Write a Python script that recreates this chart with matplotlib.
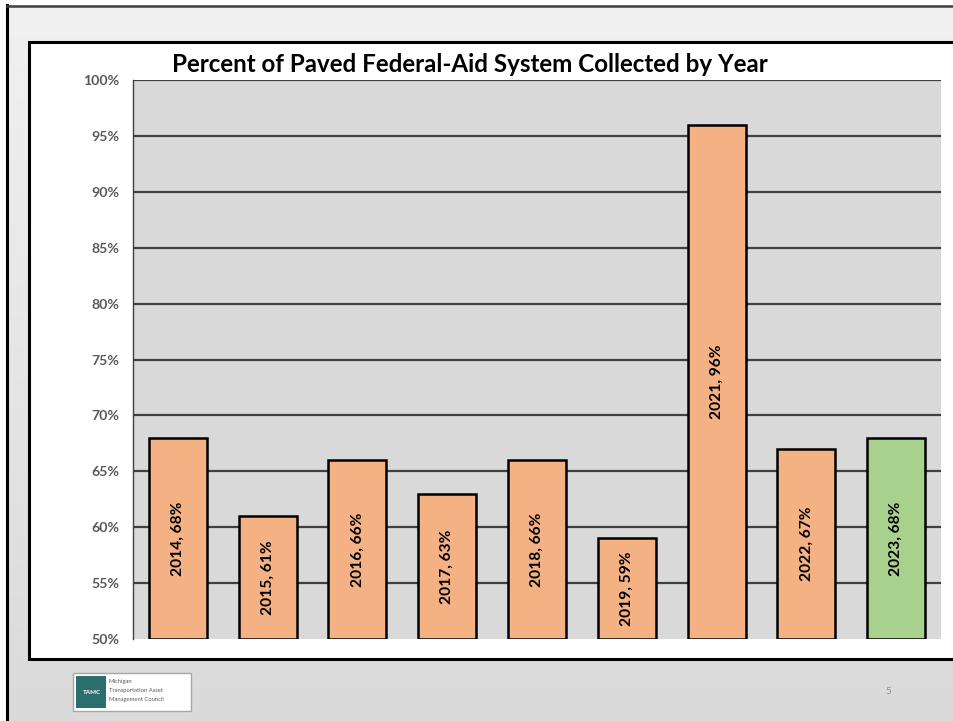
import numpy as np
import matplotlib
matplotlib.use("Agg")
import matplotlib.pyplot as plt
from matplotlib.patches import Rectangle, Circle
from matplotlib.lines import Line2D

plt.rcParams['font.family'] = ['Lato', 'DejaVu Sans']

# Data
years = ["2014", "2015", "2016", "2017", "2018", "2019", "2021", "2022", "2023"]
percent_collected = [68, 61, 66, 63, 66, 59, 96, 67, 68]
bar_colors = ["#f4b183"] * 8 + ["#a9d18e"]
y_ticks = [50, 55, 60, 65, 70, 75, 80, 85, 90, 95, 100]
y_tick_labels = [f"{t}%" for t in y_ticks]
title = "Percent of Paved Federal-Aid System Collected by Year"

W, H = 954, 721
fig = plt.figure(figsize=(W / 100, H / 100), dpi=100)


def fx(x):
    return x / W


def fy(y):
    return 1 - y / H


# Slide background with soft vertical gradient
bg = fig.add_axes([0, 0, 1, 1], zorder=-10)
grad = np.linspace(0, 1, 256).reshape(-1, 1)
top_c = np.array([0.945, 0.945, 0.945])
bot_c = np.array([0.855, 0.855, 0.855])
img = top_c + (bot_c - top_c) * grad
img = np.repeat(img[:, np.newaxis, :], 2, axis=1)
bg.imshow(img, aspect='auto', extent=[fx(8), 1, fy(H), fy(5)])
bg.set_xlim(0, 1)
bg.set_ylim(0, 1)
bg.axis('off')

# Slide frame lines
fig.add_artist(Line2D([fx(7.5), fx(7.5)], [fy(5), 0], color='black', lw=2.2,
                      transform=fig.transFigure))
fig.add_artist(Line2D([fx(7), 1], [fy(5.5), fy(5.5)], color='#404040', lw=1.8,
                      transform=fig.transFigure))

# White chart box
fig.add_artist(Rectangle((fx(29), fy(659)), fx(W + 20) - fx(29), fy(42) - fy(659),
                         facecolor='white', edgecolor='black', lw=2.2,
                         transform=fig.transFigure, zorder=-5))

# Plot area
ax = fig.add_axes([fx(133), fy(639), fx(941) - fx(133), fy(80) - fy(639)])
ax.set_facecolor('#d9d9d9')
x = np.arange(len(years))
ax.set_xlim(-0.5, len(years) - 0.5)
ax.set_ylim(50, 100)
ax.set_yticks(y_ticks)
ax.set_yticklabels(y_tick_labels, fontsize=10.2, fontweight='bold', color='#595959')
ax.tick_params(axis='y', length=0, pad=10)
ax.set_xticks([])
for t in y_ticks[1:]:
    ax.axhline(t, color='#404040', lw=1.6, zorder=1)
for s in ['top', 'right', 'bottom']:
    ax.spines[s].set_visible(False)
ax.spines['left'].set_color('#404040')
ax.spines['left'].set_linewidth(1.0)

bars = ax.bar(x, [v - 50 for v in percent_collected], bottom=50, width=0.645,
              color=bar_colors, edgecolor='black', linewidth=1.8, zorder=3)
for xi, yr, v in zip(x, years, percent_collected):
    ax.text(xi, (50 + v) / 2, f"{yr}, {v}%", rotation=90, ha='center', va='center',
            fontsize=11.2, fontweight='bold', color='black', zorder=4)

# Title
fig.text(fx(470), fy(65), title, ha='center', va='center', fontsize=17.4,
         fontweight='bold', color='black')

# Footer logo
fig.add_artist(Rectangle((fx(73), fy(711)), fx(191) - fx(73), fy(673) - fy(711),
                         facecolor='white', edgecolor='#a6a6a6', lw=1.0,
                         transform=fig.transFigure))
fig.add_artist(Rectangle((fx(76), fy(708)), fx(106) - fx(76), fy(676) - fy(708),
                         facecolor='#2b6e6e', edgecolor='none',
                         transform=fig.transFigure))
fig.text(fx(92), fy(692), "TAMC", ha='center', va='center', fontsize=4.5,
         fontweight='bold', color='white')
for i, line in enumerate(["Michigan", "Transportation Asset", "Management Council"]):
    fig.text(fx(109), fy(682 + i * 8.5), line, ha='left', va='center', fontsize=4.2,
             color='#595959')

# Page number
fig.text(fx(888), fy(691), "5", ha='center', va='center', fontsize=7, color='#8c8c8c')

fig.savefig("out.png", dpi=100)
